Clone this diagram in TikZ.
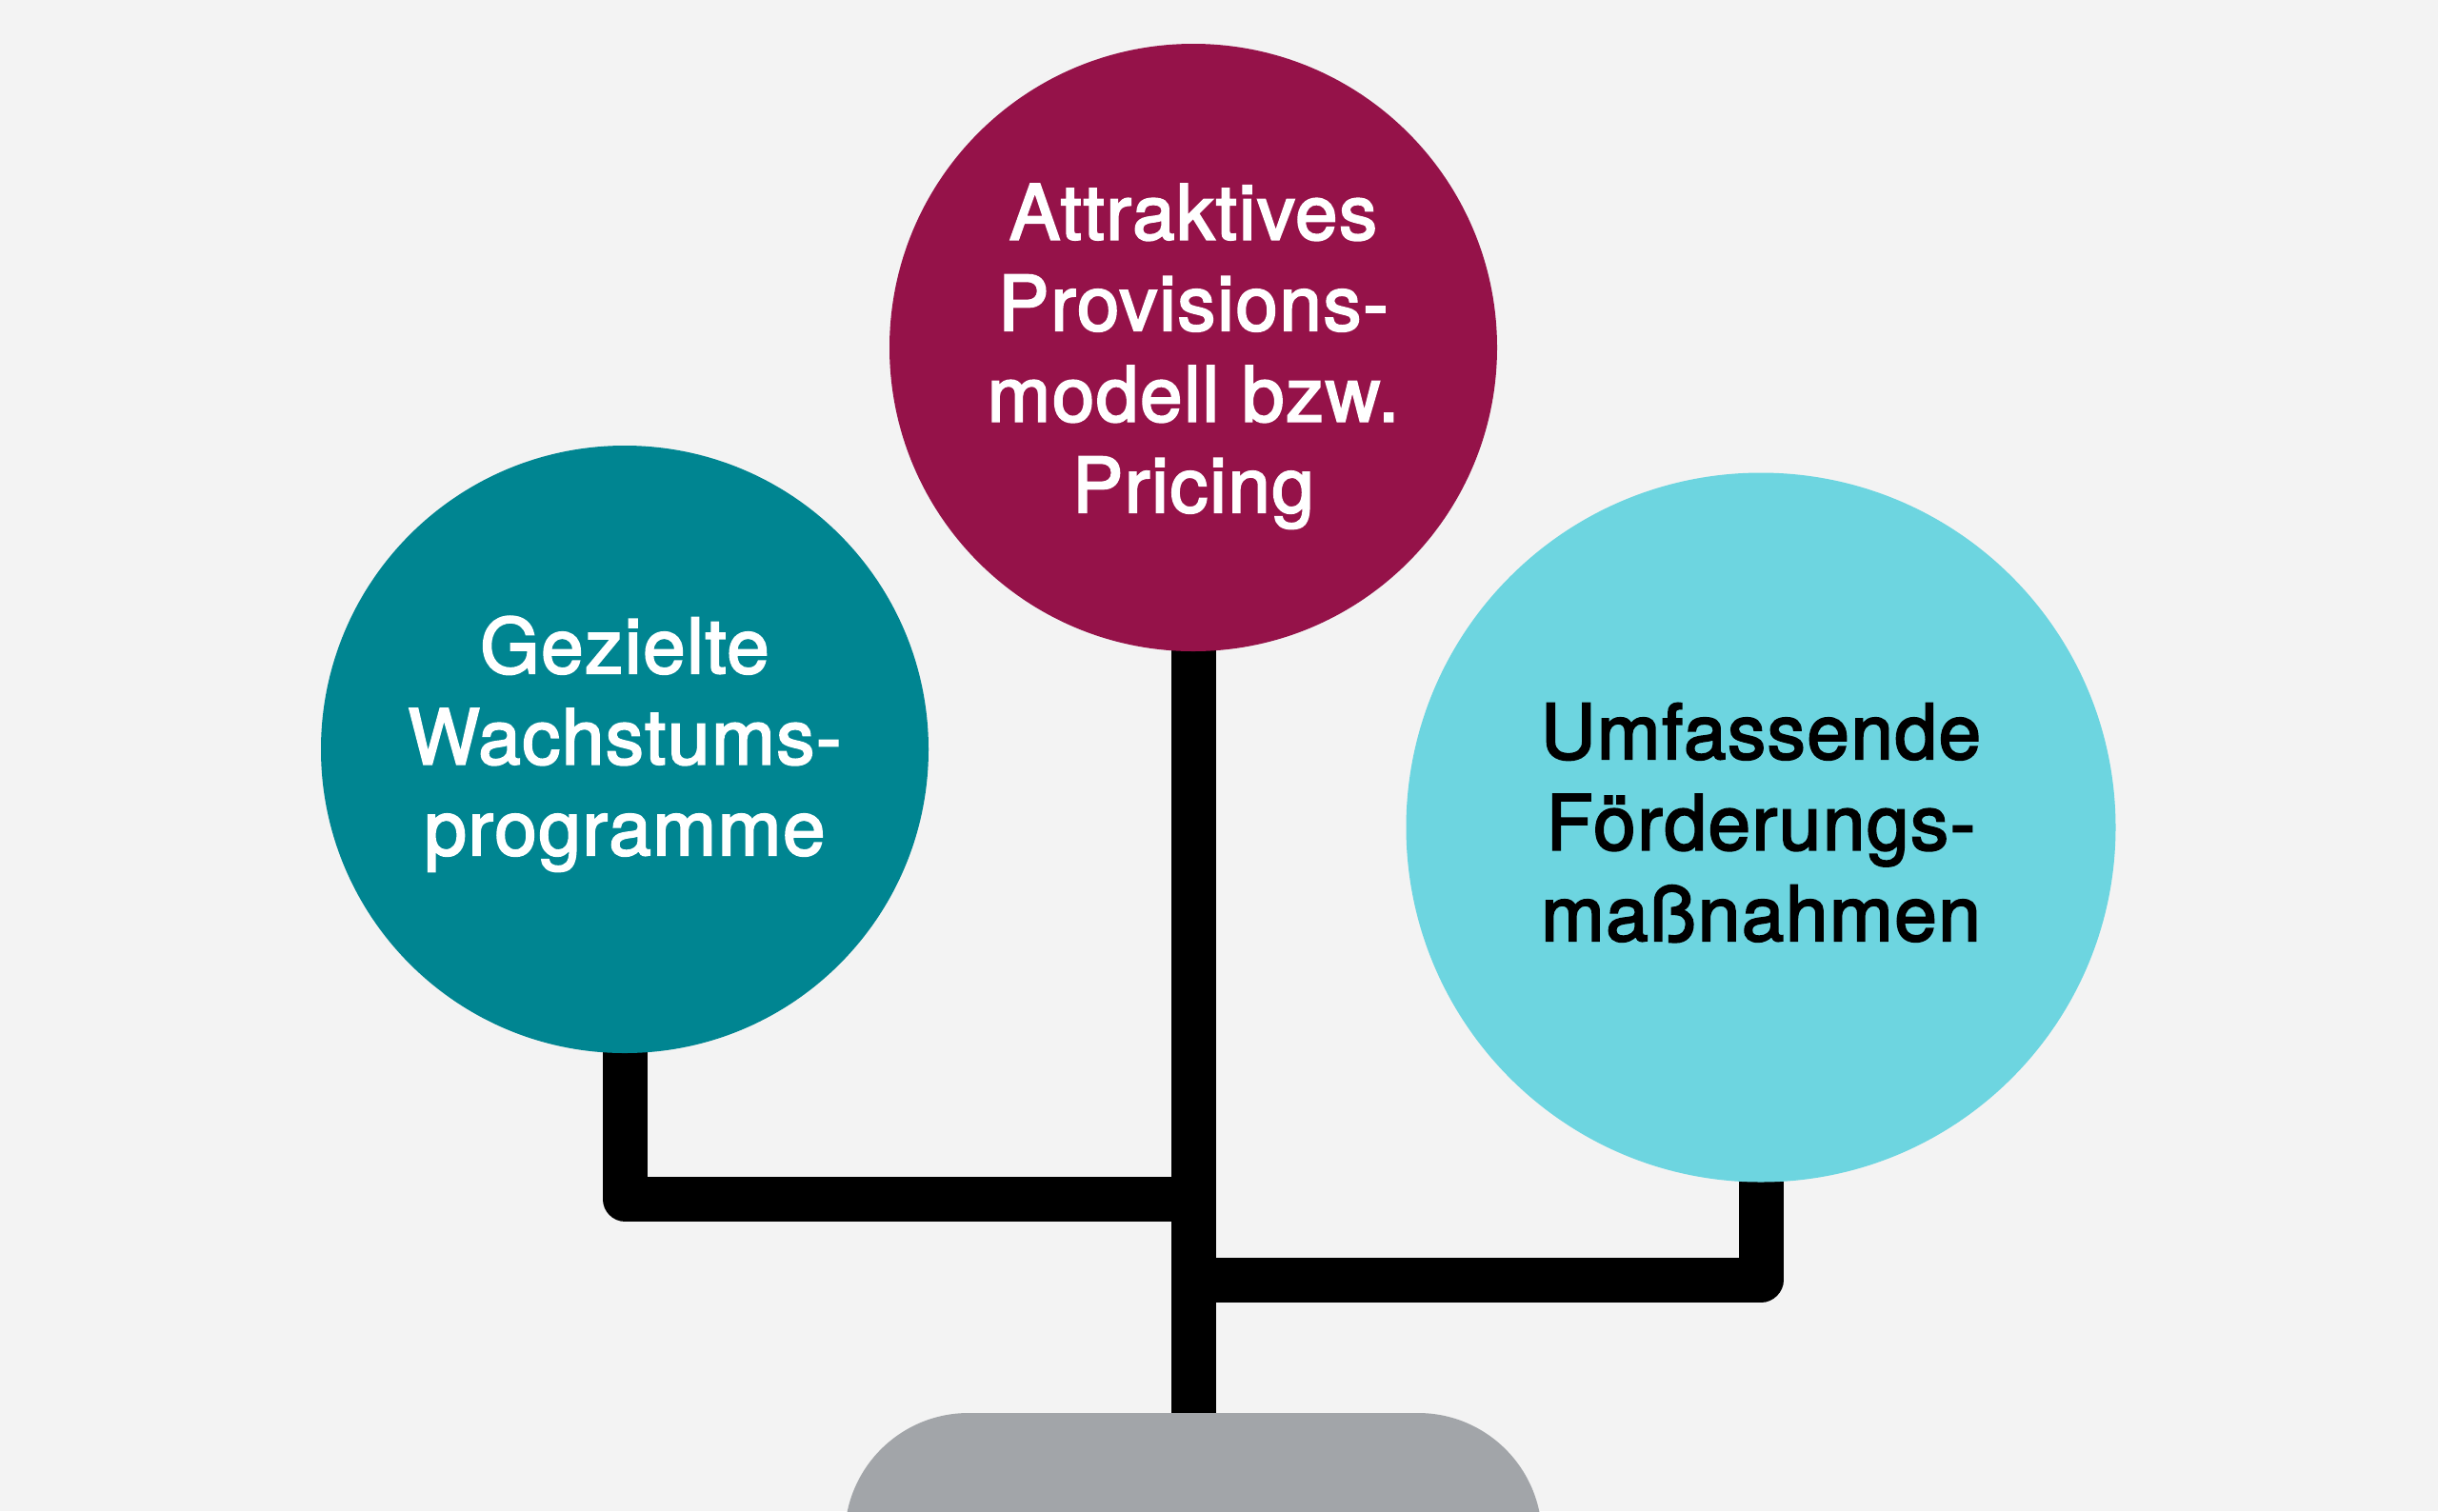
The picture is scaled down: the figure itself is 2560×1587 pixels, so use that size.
\documentclass[tikz,border=0pt]{standalone}
\usepackage{fontspec}
\newfontfamily\lblfont{TeX Gyre Heros}[FakeBold=2.5, LetterSpace=2]
\pgfdeclarelayer{bglayer}
\pgfdeclarelayer{linelayer}
\pgfsetlayers{bglayer,linelayer,main}
\definecolor{bgc}{HTML}{F3F3F3}
\definecolor{magc}{HTML}{951249}
\definecolor{tealc}{HTML}{008591}
\definecolor{cyanc}{HTML}{6DD5E0}
\definecolor{greyc}{HTML}{A2A5A9}
\tikzset{
  bubble/.style={circle, draw=none, inner sep=0pt},
  lbl/.style={align=center, inner sep=0pt, font=\lblfont\fontsize{20pt}{23.875pt}\selectfont},
  stem/.style={draw=black, line width=11.75pt, line join=round, line cap=butt},
}
\begin{document}
\begin{tikzpicture}[x=0.25pt, y=-0.25pt]
\useasboundingbox (0,0) rectangle (2560,1587);
\begin{pgfonlayer}{bglayer}
  \fill[bgc] (0,0) rectangle (2560,1587);
\end{pgfonlayer}

% bubbles
\node[bubble, fill=magc, minimum size=159.5pt] (mag) at (1253,365) {};
\node[bubble, fill=tealc, minimum size=159.5pt] (teal) at (656,787) {};
\node[bubble, fill=cyanc, minimum size=186.25pt] (cyan) at (1849,869) {};
\node[fill=greyc, draw=none, rounded corners=32.5pt, minimum width=183pt, minimum height=100pt, inner sep=0pt] (base) at (1253,1684) {};

% labels (anchor=base is the baseline of the last line)
\node[lbl, text=white, anchor=base] (magtext) at (1253,538) {Attraktives\\Provisions-\\modell bzw.\\Pricing};
\node[lbl, text=white, anchor=base] (tealtext) at (656,898) {Gezielte\\Wachstums-\\programme};
\node[lbl, text=black, anchor=base] (cyantext) at (1849,988) {Umfassende\\Förderungs-\\maßnahmen};

% connectors
\coordinate (j1) at (1253,1259);
\coordinate (j2) at (1253,1344);
\begin{pgfonlayer}{linelayer}
  \draw[stem] (mag.center) -- (base.center);
  \draw[stem] (teal.center) |- (j1);
  \draw[stem] (cyan.center) |- (j2);
\end{pgfonlayer}
\end{tikzpicture}
\end{document}
